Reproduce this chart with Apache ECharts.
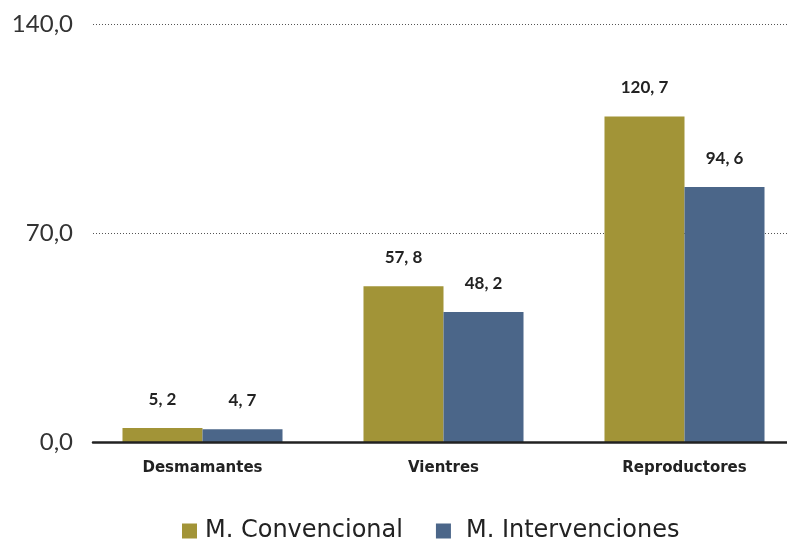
<!DOCTYPE html>
<html>
<head>
<meta charset="utf-8">
<script src="https://cdn.jsdelivr.net/npm/echarts@6/dist/echarts.min.js"></script>
<style>
  html, body { margin: 0; padding: 0; background: #fff; }
  #chart { width: 787px; height: 540px; }
</style>
</head>
<body>
<div id="chart"></div>
<script>
// Categories and series values
const categories = ['Desmamantes', 'Vientres', 'Reproductores'];
const convencional = [5.2, 57.8, 120.7];
const intervenciones = [4.7, 48.2, 94.6];
const seriesNames = ['M. Convencional', 'M. Intervenciones'];
// Scale ticks shown on the left
const tickValues = [0, 70, 140];

const FONT = 'Lato, "Open Sans", sans-serif';
const WIDE = '"DejaVu Sans", sans-serif';
const fmt = v => v.toFixed(1).replace('.', ', ');

const chart = echarts.init(document.getElementById('chart'), null, { renderer: 'canvas' });

const valueLabel = {
  show: true,
  position: 'top',
  distance: 20,
  fontWeight: 'bold',
  fontSize: 17,
  color: '#222',
  fontFamily: FONT,
  formatter: p => fmt(p.value)
};

chart.setOption({
  animation: false,
  backgroundColor: '#ffffff',
  textStyle: { fontFamily: FONT },
  legend: {
    left: 177,
    top: 514,
    itemWidth: 15,
    itemHeight: 15,
    itemGap: 33,
    icon: 'rect',
    textStyle: { fontSize: 24, color: '#222', fontFamily: WIDE, padding: [0, 0, 0, 3] },
    data: [
      { name: seriesNames[0] },
      { name: seriesNames[1], textStyle: { padding: [0, 0, 0, 10] } }
    ]
  },
  grid: [
    // bars
    { left: 82, width: 723, top: 24, bottom: 98, outerBoundsMode: 'none', containLabel: false },
    // reference lines and left scale
    { left: 93, right: 0, top: 24, bottom: 98, outerBoundsMode: 'none', containLabel: false }
  ],
  xAxis: [
    {
      type: 'category',
      gridIndex: 0,
      data: categories,
      axisLine: { show: false },
      axisTick: { show: false },
      axisLabel: { fontWeight: 'bold', fontSize: 15, color: '#222', margin: 19, fontFamily: WIDE }
    },
    {
      type: 'category',
      gridIndex: 1,
      data: categories,
      z: 10,
      axisLine: { show: true, lineStyle: { color: '#222', width: 2.5 } },
      axisTick: { show: false },
      axisLabel: { show: false }
    }
  ],
  yAxis: [
    {
      type: 'value',
      gridIndex: 0,
      min: 0,
      max: 155,
      show: false
    },
    {
      type: 'value',
      gridIndex: 1,
      min: tickValues[0],
      max: tickValues[tickValues.length - 1],
      interval: tickValues[1] - tickValues[0],
      axisLine: { show: false },
      axisTick: { show: false },
      axisLabel: {
        fontSize: 24,
        color: '#333',
        margin: 20,
        fontFamily: FONT,
        formatter: v => v.toFixed(1).replace('.', ',')
      },
      splitLine: { show: true, lineStyle: { color: '#555', type: [1, 2], width: 1 } }
    }
  ],
  series: [
    {
      name: seriesNames[0],
      type: 'bar',
      xAxisIndex: 0,
      yAxisIndex: 0,
      data: convencional,
      barGap: '0%',
      barCategoryGap: '33.6%',
      itemStyle: { color: '#A29437' },
      label: valueLabel
    },
    {
      name: seriesNames[1],
      type: 'bar',
      xAxisIndex: 0,
      yAxisIndex: 0,
      data: intervenciones,
      barGap: '0%',
      barCategoryGap: '33.6%',
      itemStyle: { color: '#4B6689' },
      label: valueLabel
    }
  ]
});
</script>
</body>
</html>
